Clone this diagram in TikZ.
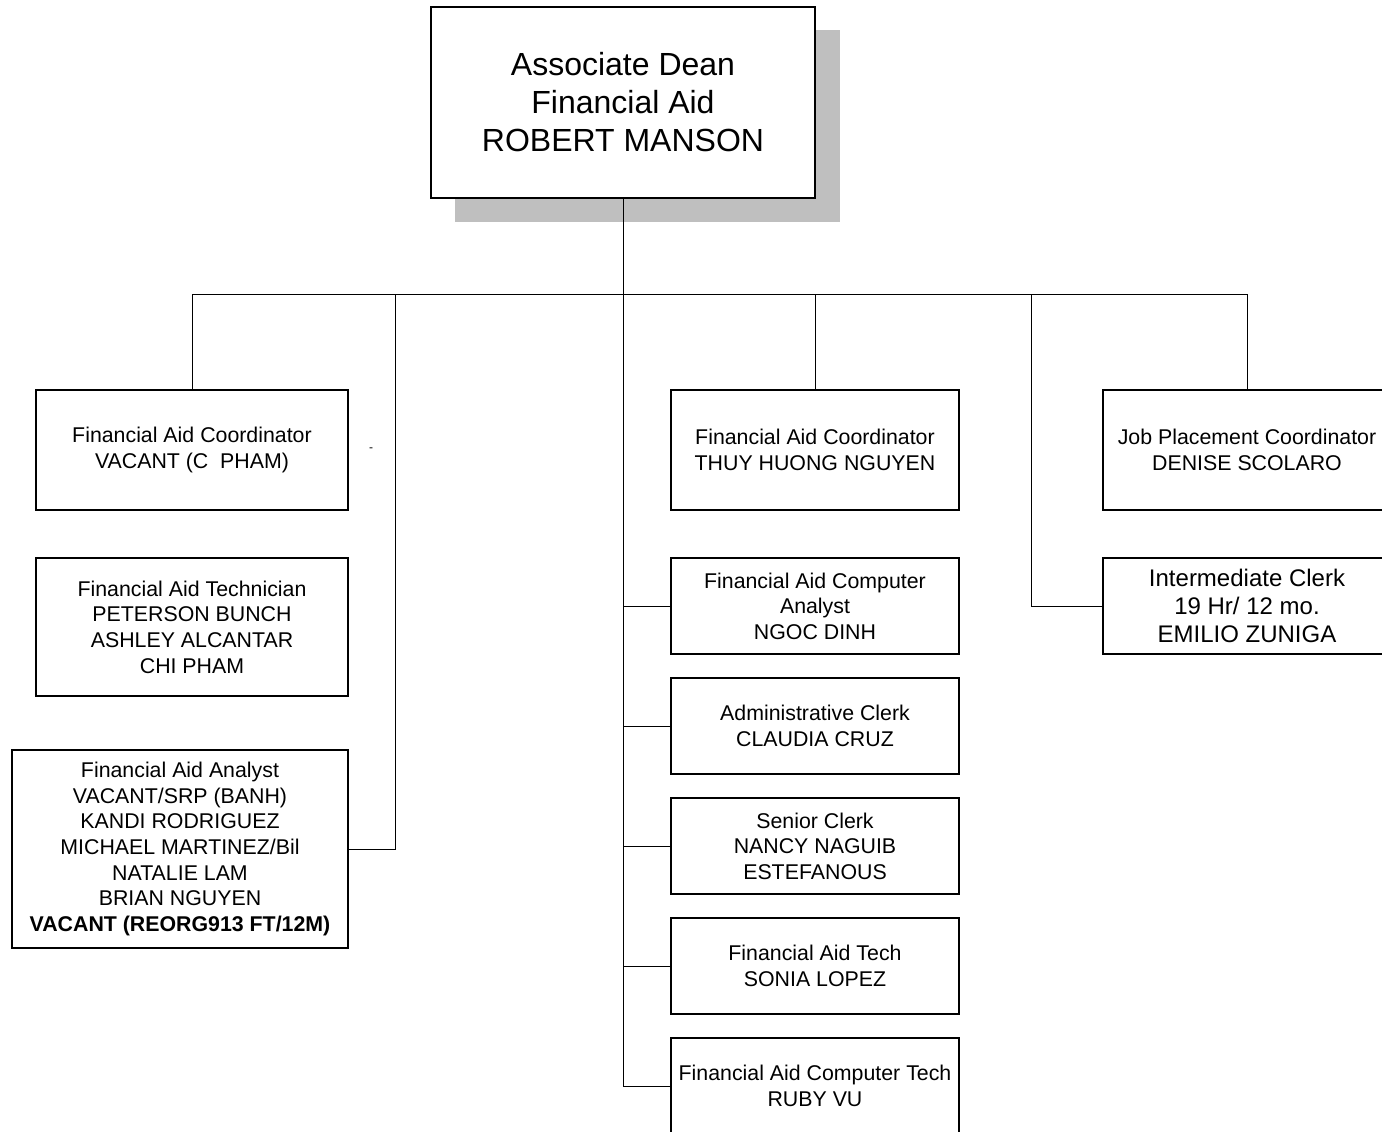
\documentclass[tikz,border=0pt]{standalone}
\usepackage{fontspec}
\setmainfont{Liberation Sans}
\begin{document}
\begin{tikzpicture}[x=0.75pt,y=-0.75pt,
  box/.style 2 args={draw=black,line width=1.1pt,fill=white,inner sep=0pt,align=center,
    minimum width=#1*0.75pt,minimum height=#2*0.75pt,font=\fontsize{16}{19.2}\selectfont},
  conn/.style={draw=black,line width=0.7pt},
  shadowbox/.style={fill=black!25,draw=none}]
\clip (0,0) rectangle (1382,1132);
\fill[white] (0,0) rectangle (1382,1132);
% shadow of top box
\path[shadowbox] (455,30) rectangle (840,222);
% top box
\node[box={384}{191},font=\fontsize{24}{28.5}\selectfont] (top) at (623,102.5) {Associate Dean\\Financial Aid\\ROBERT MANSON};
% left column
\node[box={312}{120}] (lcoord) at (192,450) {\rule{0pt}{2pt}Financial Aid Coordinator\\VACANT (C~~PHAM)};
\node[box={312}{138}] (ltech) at (192,627) {Financial Aid Technician\\PETERSON BUNCH\\ASHLEY ALCANTAR\\CHI PHAM};
\node[box={336}{198}] (ana) at (180,849) {Financial Aid Analyst\\VACANT/SRP (BANH)\\KANDI RODRIGUEZ\\MICHAEL MARTINEZ/Bil\\NATALIE LAM\\BRIAN NGUYEN\\\textbf{VACANT (REORG913 FT/12M)}};
\node[inner sep=0pt,font=\fontsize{9}{10}\selectfont] (dash) at (371,450) {-};
% center column
\node[box={288}{120}] (ccoord) at (815,450) {Financial Aid Coordinator\\THUY HUONG NGUYEN};
\node[box={288}{96}] (cana) at (815,606) {Financial Aid Computer\\Analyst\\NGOC DINH};
\node[box={288}{96}] (adm) at (815,726) {Administrative Clerk\\CLAUDIA CRUZ};
\node[box={288}{96}] (sen) at (815,846) {Senior Clerk\\NANCY NAGUIB\\ESTEFANOUS};
\node[box={288}{96}] (ftech) at (815,966) {Financial Aid Tech\\SONIA LOPEZ};
\node[box={288}{96}] (ctech) at (815,1086) {Financial Aid Computer Tech\\RUBY VU};
% right column
\node[box={288}{120}] (jcoord) at (1247,450) {Job Placement Coordinator\\DENISE SCOLARO};
\node[box={288}{96},font=\fontsize{18}{21.2}\selectfont] (iclerk) at (1247,606) {Intermediate Clerk\\19 Hr/ 12 mo.\\EMILIO ZUNIGA};
% bus coordinates
\coordinate (lb) at (395,295);
\coordinate (rb) at (1031,295);
% connectors
\draw[conn] (lcoord.north) -- ++(0,-95) -| (jcoord.north);
\draw[conn] (top.south) |- (ctech.west);
\draw[conn] (ccoord.north) -- (ccoord.north |- lb);
\draw[conn] (ana.east) -| (lb);
\draw[conn] (iclerk.west) -| (rb);
\draw[conn] (cana.west) -- (cana.west -| top.south);
\draw[conn] (adm.west) -- (adm.west -| top.south);
\draw[conn] (sen.west) -- (sen.west -| top.south);
\draw[conn] (ftech.west) -- (ftech.west -| top.south);
\end{tikzpicture}
\end{document}
